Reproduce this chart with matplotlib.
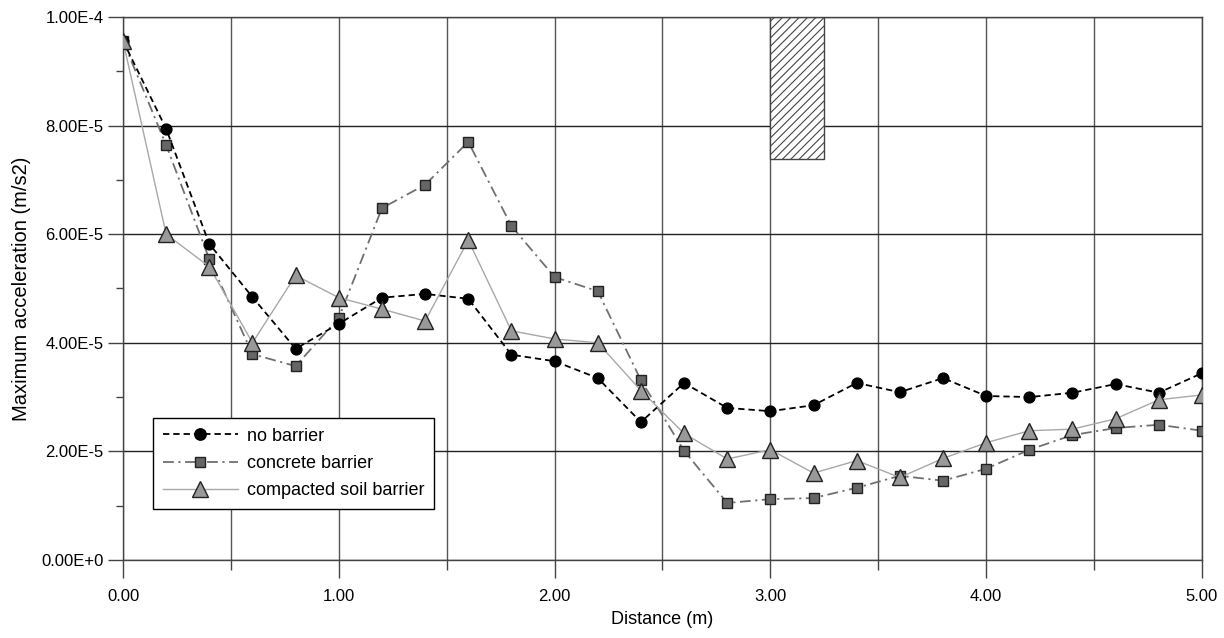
import matplotlib
matplotlib.use("Agg")
import matplotlib.pyplot as plt
from matplotlib.patches import Rectangle
from matplotlib.ticker import MultipleLocator, FuncFormatter

plt.rcParams['font.family'] = ['Liberation Sans', 'DejaVu Sans']
plt.rcParams['hatch.linewidth'] = 0.8

# distance (m)
distance = [0.0, 0.2, 0.4, 0.6, 0.8, 1.0, 1.2, 1.4, 1.6, 1.8, 2.0, 2.2, 2.4,
            2.6, 2.8, 3.0, 3.2, 3.4, 3.6, 3.8, 4.0, 4.2, 4.4, 4.6, 4.8, 5.0]

# maximum acceleration, in units of 1E-5 m/s2
no_barrier = [9.56, 7.94, 5.82, 4.84, 3.89, 4.35, 4.83, 4.90, 4.81, 3.78, 3.66, 3.35, 2.54,
              3.26, 2.80, 2.74, 2.85, 3.26, 3.09, 3.35, 3.02, 3.00, 3.08, 3.24, 3.08, 3.44]
concrete = [9.56, 7.64, 5.54, 3.79, 3.57, 4.46, 6.48, 6.91, 7.70, 6.15, 5.21, 4.95, 3.31,
            2.01, 1.05, 1.12, 1.14, 1.33, 1.55, 1.46, 1.68, 2.03, 2.30, 2.43, 2.49, 2.38]
compacted = [9.56, 6.00, 5.40, 4.00, 5.24, 4.83, 4.62, 4.40, 5.89, 4.22, 4.07, 4.00, 3.12,
             2.33, 1.86, 2.03, 1.60, 1.83, 1.52, 1.87, 2.16, 2.38, 2.41, 2.60, 2.95, 3.04]

# barrier position (hatched box)
barrier_x = [3.0, 3.25]
barrier_y = [7.38, 10.0]

scale = 1e-5

fig = plt.figure(figsize=(12.24, 6.38), dpi=100)
ax = fig.add_axes([0.1005, 0.1223, 0.8815, 0.8511])

ax.plot(distance, [v * scale for v in no_barrier], color='black', linestyle=(0, (3.5, 2.2)),
        linewidth=1.3, marker='o', markersize=7.8, markerfacecolor='black',
        markeredgecolor='black', label='no barrier', zorder=3.5)
ax.plot(distance, [v * scale for v in concrete], color='#707070', linestyle=(0, (6, 2.5, 1.2, 2.5)),
        linewidth=1.3, marker='s', markersize=7.5, markerfacecolor='#666666',
        markeredgecolor='#222222', markeredgewidth=1.0, label='concrete barrier', zorder=3)
ax.plot(distance, [v * scale for v in compacted], color='#a8a8a8', linestyle='-',
        linewidth=1.0, marker='^', markersize=11, markerfacecolor='#999999',
        markeredgecolor='#222222', markeredgewidth=1.0, label='compacted soil barrier', zorder=4)

ax.add_patch(Rectangle((barrier_x[0], barrier_y[0] * scale), barrier_x[1] - barrier_x[0],
                       (barrier_y[1] - barrier_y[0]) * scale, facecolor='white',
                       edgecolor='#444444', hatch='////', linewidth=1.0, zorder=2))

ax.set_xlim(0, 5)
ax.set_ylim(0, 1e-4)
ax.xaxis.set_major_locator(MultipleLocator(1))
ax.xaxis.set_minor_locator(MultipleLocator(0.5))
ax.yaxis.set_major_locator(MultipleLocator(2e-5))
ax.yaxis.set_minor_locator(MultipleLocator(1e-5))
ax.xaxis.set_major_formatter(FuncFormatter(lambda v, p: f"{v:.2f}"))


def sci_fmt(v, p):
    if abs(v) < 1e-12:
        return "0.00E+0"
    s = f"{v:.2E}"
    mant, exp = s.split('E')
    return f"{mant}E{int(exp)}"


ax.yaxis.set_major_formatter(FuncFormatter(sci_fmt))

ax.grid(True, which='major', axis='y', color='#222222', linewidth=1.0, zorder=0)
ax.grid(True, which='both', axis='x', color='#555555', linewidth=1.0, zorder=0)
ax.set_axisbelow(True)

for s in ax.spines.values():
    s.set_color('#444444')
    s.set_linewidth(1.0)

ax.tick_params(axis='x', which='major', length=13, width=1.0, color='#444444',
               labelsize=12, pad=8)
ax.tick_params(axis='x', which='minor', length=7, width=1.0, color='#444444')
ax.tick_params(axis='y', which='major', length=11, width=1.0, color='#444444',
               labelsize=12, pad=3)
ax.tick_params(axis='y', which='minor', length=5, width=1.0, color='#444444')

ax.set_xlabel('Distance (m)', fontsize=13, labelpad=5)
ax.set_ylabel('Maximum acceleration (m/s2)', fontsize=14.5, labelpad=7)

leg = ax.legend(loc='lower left', bbox_to_anchor=(0.0278, 0.094), borderaxespad=0,
                fontsize=13, frameon=True, fancybox=False, edgecolor='black', framealpha=1,
                handlelength=4.15, handletextpad=0.5, borderpad=0.55, labelspacing=0.56,
                markerscale=1.05)
leg.get_frame().set_linewidth(1.0)

fig.savefig('out.png', dpi=100)
